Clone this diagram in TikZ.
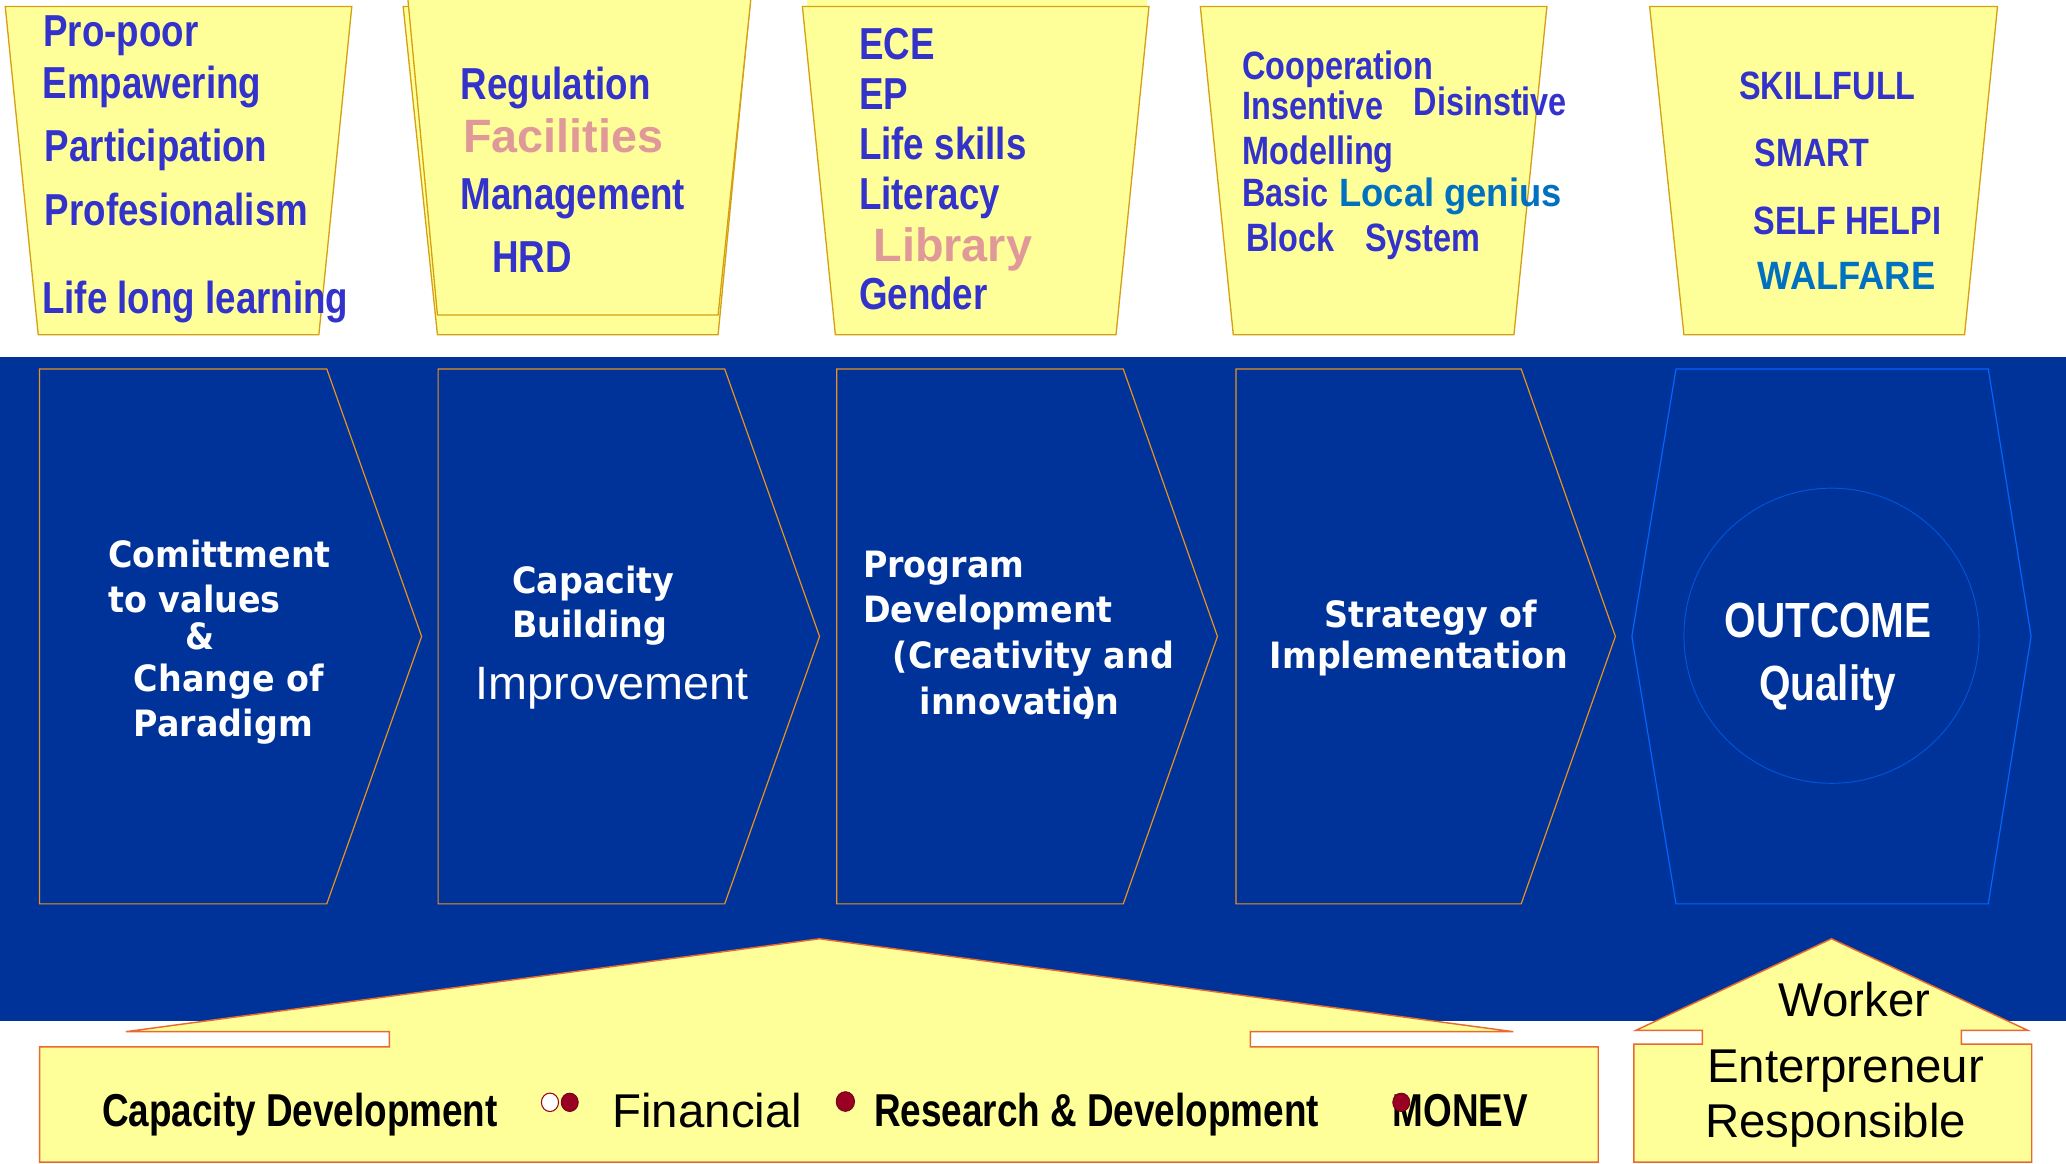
\documentclass[tikz,border=0pt]{standalone}
\usepackage{fontspec}
\setmainfont{Liberation Sans}
\newfontfamily\narrowf[FakeStretch=0.82]{Liberation Sans}
\newfontfamily\narrowbf[FakeStretch=0.80]{Liberation Sans}
\newfontfamily\widef[FakeStretch=0.92]{Liberation Sans}
\newfontfamily\chevf[FakeStretch=0.92]{DejaVu Sans}
\definecolor{yel}{RGB}{255,255,153}
\definecolor{trapline}{RGB}{214,160,20}
\definecolor{tblue}{RGB}{51,51,204}
\definecolor{tpink}{RGB}{224,153,153}
\definecolor{tteal}{RGB}{0,112,192}
\definecolor{bandblue}{RGB}{0,51,153}
\definecolor{chevline}{RGB}{235,145,30}
\definecolor{hexline}{RGB}{0,102,255}
\definecolor{circline}{RGB}{0,85,220}
\definecolor{arrline}{RGB}{232,106,48}
\definecolor{dotred}{RGB}{153,0,34}
\tikzset{
  trap/.style={fill=yel, draw=trapline, line width=1pt, line join=miter},
  chev/.style={fill=bandblue, draw=chevline, line width=0.9pt},
  upar/.style={fill=yel, draw=arrline, line width=1.1pt},
  lbl/.style={anchor=base west, inner sep=0pt, outer sep=0pt},
  tb34/.style={lbl, text=tblue, font={\narrowf\bfseries\fontsize{34}{36}\selectfont}},
  tb30/.style={lbl, text=tblue, font={\narrowf\bfseries\fontsize{30}{32}\selectfont}},
  tpk/.style={lbl, text=tpink, font={\bfseries\fontsize{35.5}{37}\selectfont}},
  ttl/.style={lbl, text=tteal, font={\widef\bfseries\fontsize{30}{32}\selectfont}},
  cw/.style={lbl, text=white, font={\chevf\bfseries\fontsize{27.5}{30}\selectfont}},
  cwn/.style={lbl, text=white, font={\narrowf\bfseries\fontsize{37.5}{40}\selectfont}},
  cwr/.style={lbl, text=white, font={\fontsize{35.5}{37}\selectfont}},
  bb/.style={lbl, text=black, font={\narrowbf\bfseries\fontsize{35}{37}\selectfont}},
  br/.style={lbl, text=black, font={\fontsize{36}{38}\selectfont}},
  dot/.style={fill=dotred, draw=dotred!70!black, line width=0.6pt}
}
\begin{document}
\begin{tikzpicture}[x=1pt,y=-1pt]
\useasboundingbox (0,0) rectangle (1568,883);
\clip (0,0) rectangle (1568,883);
\fill[white] (0,0) rectangle (1568,883);
% blue band
\fill[bandblue] (0,270.7) rectangle (1568,774.6);

% top trapezoids
\draw[trap] (4,5) -- (267,5) -- (242,254) -- (29,254) -- cycle;
\draw[trap] (306,5) -- (569,5) -- (545,254) -- (332,254) -- cycle;
\draw[trap] (308.5,-12) -- (571,-12) -- (545,239) -- (332,239) -- cycle;
\fill[yel] (611,-12) -- (872,-12) -- (847,240) -- (634,240) -- cycle;
\draw[trap] (609,5) -- (872,5) -- (847,254) -- (634,254) -- cycle;
\draw[trap] (911,5) -- (1174,5) -- (1149,254) -- (936,254) -- cycle;
\draw[trap] (1252,5) -- (1516,5) -- (1491,254) -- (1278,254) -- cycle;

% trap 1 texts
\node[tb34] (t1a) at (33,35.4) {Pro-poor};
\node[tb34] (t1b) at (32.4,74.6) {Empawering};
\node[tb34] (t1c) at (34,122.7) {Participation};
\node[tb34] (t1d) at (34,171.5) {Profesionalism};
\node[tb34] (t1e) at (32,237.8) {Life long learning};
% trap 2 texts
\node[tb34] (t2a) at (349.6,75.4) {Regulation};
\node[tpk]  (t2b) at (351.4,116) {Facilities};
\node[tb34] (t2c) at (349.6,159) {Management};
\node[tb34] (t2d) at (373.5,207) {HRD};
% trap 3 texts
\node[tb34] (t3a) at (652,45) {ECE};
\node[tb34] (t3b) at (652,83) {EP};
\node[tb34] (t3c) at (652,121) {Life skills};
\node[tb34] (t3d) at (652,159) {Literacy};
\node[tpk]  (t3e) at (663,198.6) {Library};
\node[tb34] (t3f) at (652,235) {Gender};
% trap 4 texts
\node[tb30] (t4a) at (943,60) {Cooperation};
\node[tb30] (t4b) at (943,91) {Insentive};
\node[tb30] (t4c) at (1073,88) {Disinstive};
\node[tb30] (t4d) at (943,125) {Modelling};
\node[tb30] (t4e) at (943,157) {Basic};
\node[ttl]  (t4f) at (1016.6,157) {Local genius};
\node[tb30] (t4g) at (946,191) {Block};
\node[tb30] (t4h) at (1036,191) {System};
% trap 5 texts
\node[tb30] (t5a) at (1320,75.4) {SKILLFULL};
\node[tb30] (t5b) at (1331.5,126) {SMART};
\node[tb30] (t5c) at (1331,178) {SELF HELPI};
\node[ttl]  (t5d) at (1334,219.6) {WALFARE};

% chevrons
\draw[chev] (30,280) -- (248,280) -- (320,483) -- (248,686) -- (30,686) -- cycle;
\draw[chev] (332.5,280) -- (550,280) -- (622,483) -- (550,686) -- (332.5,686) -- cycle;
\draw[chev] (635,280) -- (852.5,280) -- (924,483) -- (852.5,686) -- (635,686) -- cycle;
\draw[chev] (938,280) -- (1154.5,280) -- (1226,483) -- (1154.5,686) -- (938,686) -- cycle;
\draw[fill=bandblue, draw=hexline, line width=0.9pt] (1272,280) -- (1509,280) -- (1541.5,483) -- (1509,686) -- (1272,686) -- (1238.5,483) -- cycle;
\draw[draw=circline, line width=0.7pt] (1390,482.5) circle [radius=112pt];

% chevron texts
\node[cw] (c1a) at (82.3,430.9) {Comittment};
\node[cw] (c1b) at (82.3,465) {to values};
\node[cw] (c1c) at (140.7,492.7) {\&};
\node[cw] (c1d) at (101.6,524.7) {Change of};
\node[cw] (c1e) at (101.6,559) {Paradigm};
\node[cw] (c2a) at (388.8,450.7) {Capacity};
\node[cw] (c2b) at (388.8,484) {Building};
\node[cwr] (c2c) at (361,530.7) {Improvement};
\node[cw] (c3a) at (655,438.5) {Program};
\node[cw] (c3b) at (655,472.4) {Development};
\node[cw] (c3c) at (677.7,507.6) {(Creativity and};
\node[cw] (c3d) at (697.9,542.3) {innovation};
\node[cw] (c3e) at (821,542.3) {)};
\node[cw] (c4a) at (1005.5,476.5) {Strategy of};
\node[cw] (c4b) at (963.8,507.6) {Implementation};
\node[cwn] (c5a) at (1308.9,484) {OUTCOME};
\node[cwn] (c5b) at (1335,532) {Quality};

% bottom up-arrow callouts
\draw[upar] (30,882) -- (30,794.5) -- (295.5,794.5) -- (295.5,783) -- (95.5,783) -- (622,712.5) -- (1148.5,783) -- (949,783) -- (949,794.5) -- (1213,794.5) -- (1213,882) -- cycle;
\draw[upar] (1240,882) -- (1240,792.5) -- (1292,792.5) -- (1292,782) -- (1241.5,782) -- (1390,712.5) -- (1539,782) -- (1488.5,782) -- (1488.5,792.5) -- (1542,792.5) -- (1542,882) -- cycle;

% bottom texts
\node[bb] (b1) at (77.5,855) {Capacity Development};
\draw[fill=white, draw=dotred, line width=0.8pt] (417.4,836.6) ellipse [x radius=6.5pt, y radius=7pt];
\draw[dot] (432.4,836.6) ellipse [x radius=6.5pt, y radius=7pt];
\node[br] (b2) at (464.8,856) {Financial};
\draw[dot] (641.6,836) ellipse [x radius=7pt, y radius=7.5pt];
\node[bb] (b3) at (663.4,855) {Research \& Development};
\node[bb] (b4) at (1057,855) {MONEV};
\draw[dot] (1063.5,836.6) ellipse [x radius=6.5pt, y radius=7pt];
\node[br] (w1) at (1349.8,771.6) {Worker};
\node[br] (w2) at (1295.6,821.6) {Enterpreneur};
\node[br] (w3) at (1294,863) {Responsible};
\end{tikzpicture}
\end{document}
